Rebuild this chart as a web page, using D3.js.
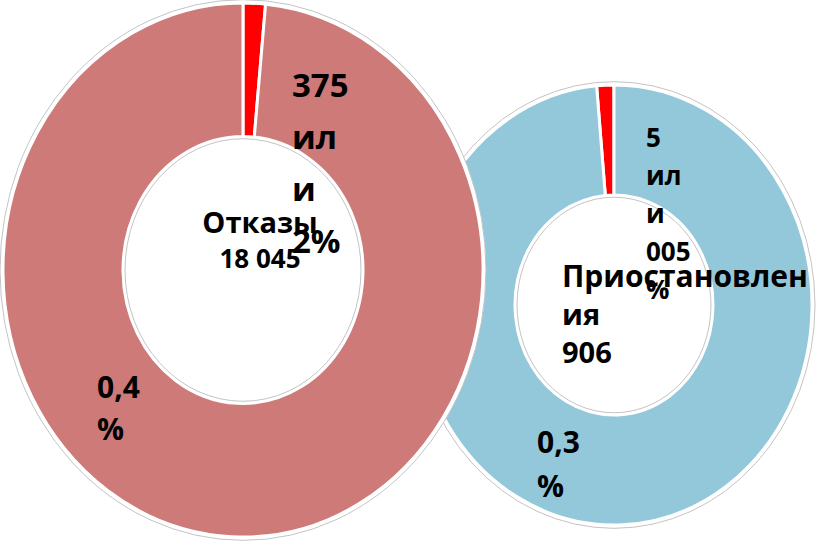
<!DOCTYPE html>
<html>
<head>
<meta charset="utf-8">
<script src="https://cdn.jsdelivr.net/npm/d3@7"></script>
<style>
  body { margin: 0; background: #fff; }
  text { font-family: "Open Sans", sans-serif; font-weight: 700; fill: #000; }
</style>
</head>
<body>
<script>

// data
var donutNames  = ["Отказы", "Приостановления"];
var donutTotals = ["18 045", "906"];
var redShare    = [1.5, 1.4];          // % of ring taken by the red slice
var redLabels   = [["375", "ил", "и", "2%"], ["5", "ил", "и", "005", "%"]];
var restLabels  = [["0,4", "%"], ["0,3", "%"]];
var centerLines = [["Отказы", "18 045"], ["Приостановлен", "ия", "906"]];

// layout (pixels) for each donut
var layout = [
  { cx: 243, cy: 270, rx: 240, ry: 267, ringColor: "#cd7a78",
    redDir: 1,
    redLab:  { dx: 49,  dy: -173, step: 52, size: 33 },
    restLab: { dx: -146, dy: 128, step: 42, size: 30 },
    center:  { dx: 17, dy: -37, step: 35, sizes: [29, 26], anchor: "middle" } },
  { cx: 614, cy: 305, rx: 198, ry: 220, ringColor: "#93c7da",
    redDir: -1,
    redLab:  { dx: 32,  dy: -158, step: 38, size: 26 },
    restLab: { dx: -77, dy: 148, step: 44, size: 30 },
    center:  { dx: -52, dy: -18, step: 38, sizes: [30, 29, 29], anchor: "start" } }
];

var svg = d3.select("body").append("svg")
            .attr("width", 817)
            .attr("height", 541);

// right donut is drawn first, the left one sits on top of it
var order = [1, 0];

order.forEach(function(i){
  var L = layout[i];
  var share = redShare[i] / 100;
  var values = [redShare[i], 100 - redShare[i]];
  var colors = ["#ff0000", L.ringColor];

  var start = L.redDir > 0 ? 0 : -share * 2 * Math.PI;
  var pie = d3.pie().sort(null)
              .startAngle(start)
              .endAngle(start + 2 * Math.PI);

  var r = L.rx;
  var sy = L.ry / L.rx;
  var arc = d3.arc().innerRadius(r * 0.5).outerRadius(r);

  var g = svg.append("g")
             .attr("transform", "translate(" + L.cx + "," + L.cy + ") scale(1," + sy + ")");

  // white halo + grey rim
  g.append("circle")
   .attr("r", r + 3)
   .attr("fill", "#fff")
   .attr("stroke", "#c4c4c4")
   .attr("stroke-width", 1)
   .attr("vector-effect", "non-scaling-stroke");

  g.selectAll("path")
   .data(pie(values))
   .enter()
   .append("path")
   .attr("d", arc)
   .attr("fill", function(d, k){ return colors[k]; })
   .attr("stroke", "#fff")
   .attr("stroke-width", 3)
   .attr("vector-effect", "non-scaling-stroke");

  // grey rim on the hole
  g.append("circle")
   .attr("r", r * 0.5 - 2)
   .attr("fill", "none")
   .attr("stroke", "#c4c4c4")
   .attr("stroke-width", 1)
   .attr("vector-effect", "non-scaling-stroke");

  // labels
  function block(lines, pos, sizes, anchor){
    var t = svg.append("text")
               .attr("text-anchor", anchor || "start");
    lines.forEach(function(s, k){
      t.append("tspan")
       .attr("x", L.cx + pos.dx)
       .attr("y", L.cy + pos.dy + k * pos.step)
       .style("font-size", (sizes ? sizes[Math.min(k, sizes.length - 1)] : pos.size) + "px")
       .text(s);
    });
  }

  block(restLabels[i], L.restLab);
  block(centerLines[i], L.center, L.center.sizes, L.center.anchor);
  block(redLabels[i], L.redLab);
});

</script>
</body>
</html>
